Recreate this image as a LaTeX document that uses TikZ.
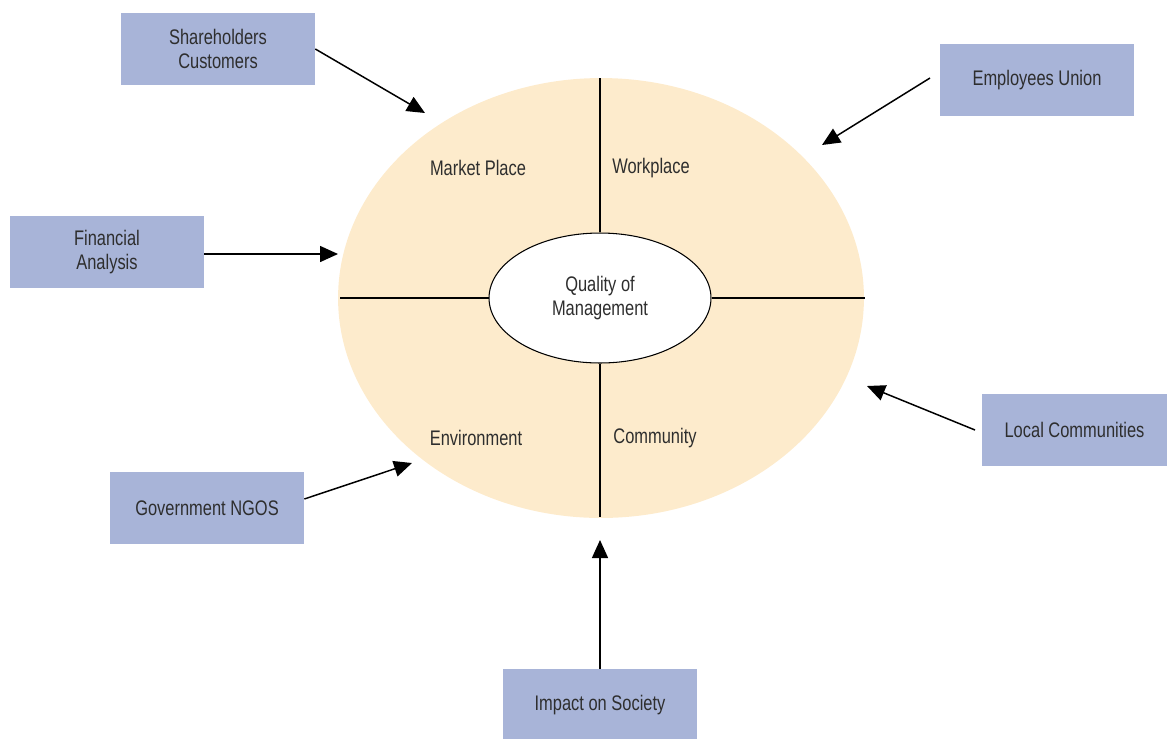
\documentclass[tikz,border=0pt]{standalone}
\usepackage{fontspec}
\setmainfont{Liberation Sans}[FakeStretch=0.78]
\usetikzlibrary{shapes.geometric,arrows.meta}
\definecolor{boxblue}{HTML}{A8B4D8}
\definecolor{sandfill}{HTML}{FDEBCC}
\definecolor{inkgray}{HTML}{2E2E2E}
\tikzset{
  stake/.style={fill=boxblue, minimum width=3.88cm, minimum height=1.44cm, align=center, text=inkgray, font=\fontsize{12}{13.6}\selectfont},
  area/.style={text=inkgray, font=\fontsize{12}{13.6}\selectfont},
  push/.style={line width=0.85pt, -{Triangle[length=0.36cm, width=0.32cm]}}
}
\begin{document}
\begin{tikzpicture}[x=0.02cm, y=-0.02cm]
	\useasboundingbox (0,0) rectangle (1168,738);
	\node[ellipse, fill=sandfill, minimum width=10.52cm, minimum height=8.8cm, inner sep=0pt] (outer) at (601,298) {};
	\node[ellipse, draw, fill=white, line width=0.6pt, minimum width=4.44cm, minimum height=2.6cm, inner sep=0pt, align=center, text=inkgray, font=\fontsize{12}{13.6}\selectfont] (core) at (600,298) {Quality of\\Management};
	\draw[line width=0.6pt] (600,78) -- (core.north);
	\draw[line width=0.6pt] (core.south) -- (600,517);
	\draw[line width=0.6pt] (340,298) -- (core.west);
	\draw[line width=0.6pt] (core.east) -- (865,298);
	\node[area] (market) at (478,168) {Market Place};
	\node[area] (work) at (651,168) {Workplace};
	\node[area] (env) at (476,438) {Environment};
	\node[area] (comm) at (655,438) {Community};
	\node[stake] (share) at (218,49) {Shareholders\\Customers};
	\node[stake] (union) at (1037,80) {Employees Union};
	\node[stake] (fin) at (107,252) {Financial\\Analysis};
	\node[stake, minimum width=3.7cm] (local) at (1074.5,430) {Local Communities};
	\node[stake] (gov) at (207,508) {Government NGOS};
	\node[stake] (impact) at (600,705) {Impact on Society};
	\coordinate (shareend) at (425,113);
	\coordinate (unionstart) at (930,78);
	\coordinate (unionend) at (822,145);
	\coordinate (finend) at (338,254);
	\coordinate (localstart) at (975,430);
	\coordinate (localend) at (867,386);
	\coordinate (govend) at (412,463);
	\coordinate (impactend) at (600,540);
	\draw[push] (share.east |- 0,49) -- (shareend);
	\draw[push] (unionstart) -- (unionend);
	\draw[push] (fin.east |- 0,254) -- (finend);
	\draw[push] (localstart) -- (localend);
	\draw[push] (gov.east |- 0,499) -- (govend);
	\draw[push] (impact.north) -- (impactend);
\end{tikzpicture}
\end{document}
